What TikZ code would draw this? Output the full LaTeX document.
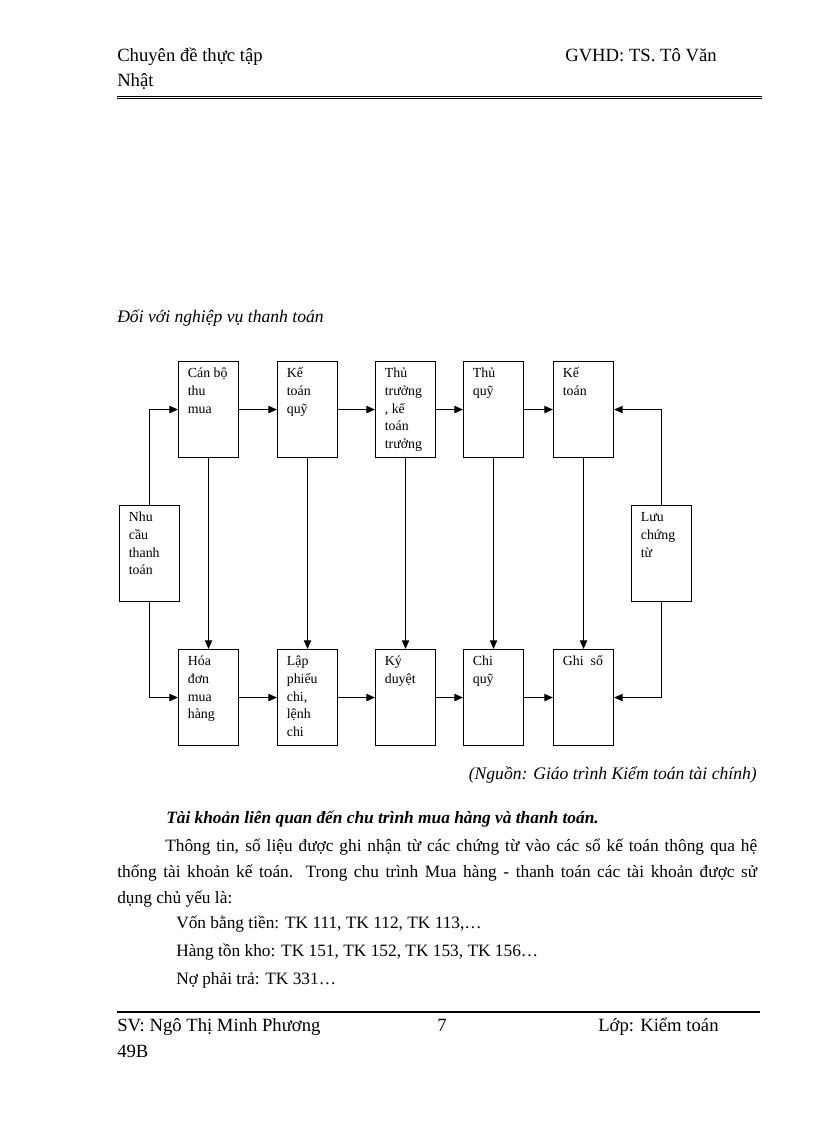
\documentclass[tikz,border=0pt]{standalone}
\usepackage{fontspec}
\setmainfont{Liberation Serif}
\usetikzlibrary{arrows.meta}
\newcommand{\bt}[1]{\parbox[c][72pt][t]{31pt}{\raggedright\fontsize{10.4}{13.3}\selectfont\rule{0pt}{12pt}#1}}
\begin{document}
\begin{tikzpicture}[x=0.75pt,y=-0.75pt,
  box/.style={draw,line width=0.8pt,inner xsep=7pt,inner ysep=0pt,anchor=north west},
  arr/.style={line width=0.8pt,-{Triangle[length=6.5pt,width=5.5pt]}},
  txt/.style={inner sep=0pt,anchor=base west,font=\fontsize{13}{15}\selectfont},
  hdr/.style={inner sep=0pt,anchor=base west,font=\fontsize{14}{16}\selectfont}]
\useasboundingbox (0,0) rectangle (816,1123);
% header
\node[hdr] (h1) at (117,62) {Chuyên đề thực tập};
\node[hdr] (h2) at (565,62) {GVHD: TS. Tô Văn};
\node[hdr] (h3) at (117,87) {Nhật};
\coordinate (hl1) at (117,96); \coordinate (hr1) at (762,96);
\coordinate (hl2) at (117,98.5); \coordinate (hr2) at (762,98.5);
\draw[line width=0.7pt] (hl1) -- (hr1);
\draw[line width=0.7pt] (hl2) -- (hr2);
% caption
\node[txt,font=\fontsize{13.2}{15}\selectfont\itshape] (cap) at (117,322) {Đối với nghiệp vụ thanh toán};
% top row
\node[box] (b1) at (178,361) {\bt{Cán bộ\\thu\\mua}};
\node[box] (b2) at (277,361) {\bt{Kế\\toán\\quỹ}};
\node[box] (b3) at (375,361) {\bt{Thủ\\trưởng\\, kế\\toán\\trưởng}};
\node[box] (b4) at (463,361) {\bt{Thủ\\quỹ}};
\node[box] (b5) at (553,361) {\bt{Kế\\toán}};
% bottom row
\node[box] (c1) at (178,649) {\bt{Hóa\\đơn\\mua\\hàng}};
\node[box] (c2) at (277,649) {\bt{Lập\\phiếu\\chi,\\lệnh\\chi}};
\node[box] (c3) at (375,649) {\bt{Ký\\duyệt}};
\node[box] (c4) at (463,649) {\bt{Chi\\quỹ}};
\node[box] (c5) at (553,649) {\bt{Ghi\ \ sổ}};
% side boxes
\node[box] (n) at (119,505) {\bt{Nhu\\cầu\\thanh\\toán}};
\node[box] (l) at (631,505) {\bt{Lưu\\chứng\\từ}};
% arrows
\draw[arr] (b1) -- (b2);
\draw[arr] (b2) -- (b3);
\draw[arr] (b3) -- (b4);
\draw[arr] (b4) -- (b5);
\draw[arr] (c1) -- (c2);
\draw[arr] (c2) -- (c3);
\draw[arr] (c3) -- (c4);
\draw[arr] (c4) -- (c5);
\draw[arr] (b1) -- (c1);
\draw[arr] (b2) -- (c2);
\draw[arr] (b3) -- (c3);
\draw[arr] (b4) -- (c4);
\draw[arr] (b5) -- (c5);
\draw[arr] (n.north) |- (b1.west);
\draw[arr] (n.south) |- (c1.west);
\draw[arr] (l.north) |- (b5.east);
\draw[arr] (l.south) |- (c5.east);
% source
\node[txt,anchor=base east,font=\fontsize{13.2}{15}\selectfont\itshape] (src) at (757,779) {(Nguồn: Giáo trình Kiểm toán tài chính)};
% text
\node[txt,font=\fontsize{13}{15}\selectfont\bfseries\itshape] (hd) at (166,823) {Tài khoản liên quan đến chu trình mua hàng và thanh toán.};
\node[txt] (p1) at (165,851) {\makebox[444pt][s]{Thông tin, số liệu được ghi nhận từ các chứng từ vào các sổ kế toán thông qua hệ}};
\node[txt] (p2) at (117,877) {\makebox[480pt][s]{thống tài khoản kế toán. Trong chu trình Mua hàng - thanh toán các tài khoản được sử}};
\node[txt] (p3) at (117,903) {dụng chủ yếu là:};
\node[txt] (p4) at (176,928) {Vốn bằng tiền: TK 111, TK 112, TK 113,…};
\node[txt] (p5) at (176,956) {Hàng tồn kho: TK 151, TK 152, TK 153, TK 156…};
\node[txt] (p6) at (176,984) {Nợ phải trả: TK 331…};
% footer
\coordinate (fl) at (117,1012); \coordinate (fr) at (760,1012);
\draw[line width=1.5pt] (fl) -- (fr);
\node[hdr] (f1) at (117,1031) {SV: Ngô Thị Minh Phương};
\node[hdr] (f2) at (437,1031) {7};
\node[hdr] (f3) at (598,1031) {Lớp: Kiểm toán};
\node[hdr] (f4) at (117,1057) {49B};
\end{tikzpicture}
\end{document}
